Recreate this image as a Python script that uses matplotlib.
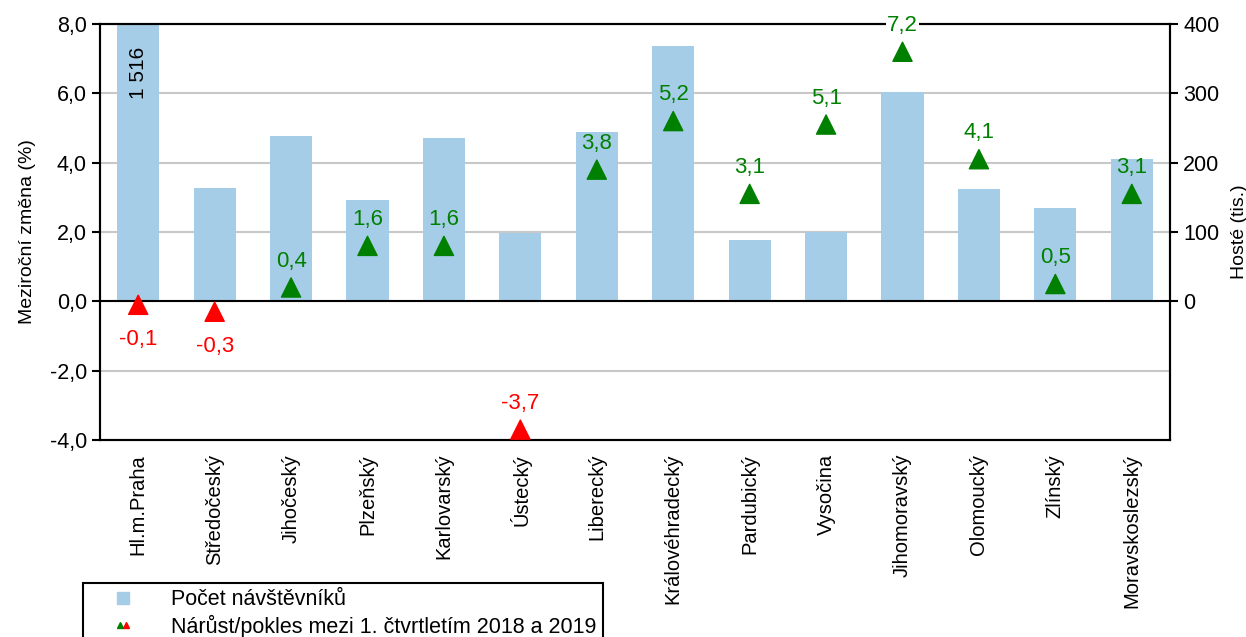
import numpy as np
import matplotlib.pyplot as plt
from matplotlib.lines import Line2D
from matplotlib.legend_handler import HandlerTuple

plt.rcParams['font.family'] = ['Liberation Sans', 'DejaVu Sans']

# Data
regions = ['Hl.m.Praha', 'Středočeský', 'Jihočeský', 'Plzeňský', 'Karlovarský', 'Ústecký',
           'Liberecký', 'Královéhradecký', 'Pardubický', 'Vysočina', 'Jihomoravský',
           'Olomoucký', 'Zlínský', 'Moravskoslezský']
visitors = [1516, 163, 238, 146, 235, 98, 244, 368, 88, 100, 302, 162, 134, 206]   # tis.
change = [-0.1, -0.3, 0.4, 1.6, 1.6, -3.7, 3.8, 5.2, 3.1, 5.1, 7.2, 4.1, 0.5, 3.1]  # %

bar_color = '#a6cde8'
up_color = '#008000'
down_color = '#ff0000'

fig = plt.figure(figsize=(12.46, 6.37), dpi=100)
ax1 = fig.add_axes([100 / 1246, 1 - 440 / 637, 1070 / 1246, 416 / 637])
ax2 = ax1.twinx()

x = np.arange(len(regions))

# Bars on the right axis (tis.), drawn behind the markers
ax2.bar(x, visitors, width=0.55, color=bar_color, zorder=2)
ax2.set_ylim(-200, 400)
ax2.set_yticks([0, 100, 200, 300, 400])
ax2.yaxis.grid(True, color='#c8c8c8', linewidth=1.5, zorder=0)
ax2.axhline(-100, color='#c8c8c8', linewidth=1.5, zorder=0)
ax2.set_axisbelow(True)
ax2.text(x[0], 330, '1 516', rotation=90, ha='center', va='center', fontsize=15)

ax1.set_zorder(ax2.get_zorder() + 1)
ax1.patch.set_visible(False)

# Year-on-year change markers
colors = [up_color if v >= 0 else down_color for v in change]
ax1.scatter(x, change, marker='^', s=190, c=colors, zorder=5, clip_on=False)
ax1.axhline(0, color='black', linewidth=1.5, zorder=3)

for xi, v, c in zip(x, change, colors):
    label = f'{v:.1f}'.replace('.', ',')
    if v >= 0 or v < -3:
        dy = 19
    else:
        dy = -25
    bbox = dict(facecolor='white', edgecolor='none', pad=1) if v > 7 else None
    ax1.annotate(label, (xi, v), xytext=(0, dy), textcoords='offset points',
                 ha='center', va='center', color=c, fontsize=16, bbox=bbox,
                 annotation_clip=False, zorder=6)

ax1.set_xlim(-0.5, len(regions) - 0.5)
ax1.set_ylim(-4, 8)
ax1.set_yticks(np.arange(-4, 9, 2))
ax1.set_yticklabels([f'{t:.1f}'.replace('.', ',') for t in np.arange(-4, 9, 2)])
ax1.set_xticks(x)
ax1.set_xticklabels(regions, rotation=90, fontsize=14.5)
ax1.tick_params(axis='x', length=0, pad=10)
ax1.tick_params(axis='y', labelsize=15.5, length=6, width=1.5, direction='out')
ax2.tick_params(axis='y', labelsize=15.5, length=6, width=1.5, direction='out')

for ax in (ax1, ax2):
    for s in ax.spines.values():
        s.set_linewidth(1.5)
        s.set_color('black')

ax1.set_ylabel('Meziroční změna (%)', fontsize=14, labelpad=10)
ax2.set_ylabel('Hosté (tis.)', fontsize=14, labelpad=8)

# Legend, partly cut by the bottom edge like in the original
h_bar = Line2D([], [], linestyle='none', marker='s', markersize=9, color=bar_color)
h_up = Line2D([], [], linestyle='none', marker='^', markersize=5, color=up_color)
h_down = Line2D([], [], linestyle='none', marker='^', markersize=5, color=down_color)
fig.legend([h_bar, (h_up, h_down)],
           ['Počet návštěvníků', 'Nárůst/pokles mezi 1. čtvrtletím 2018 a 2019'],
           handler_map={tuple: HandlerTuple(ndivide=None, pad=-2.5)},
           loc='upper left', bbox_to_anchor=(83 / 1246, 1 - 583 / 637),
           fontsize=15.5, frameon=True, fancybox=False, edgecolor='black',
           framealpha=1, borderaxespad=0, borderpad=0.3, handlelength=3.1,
           handletextpad=0.7, labelspacing=0.2)
fig.legends[0].get_frame().set_linewidth(1.5)

fig.savefig('out.png', dpi=100)
